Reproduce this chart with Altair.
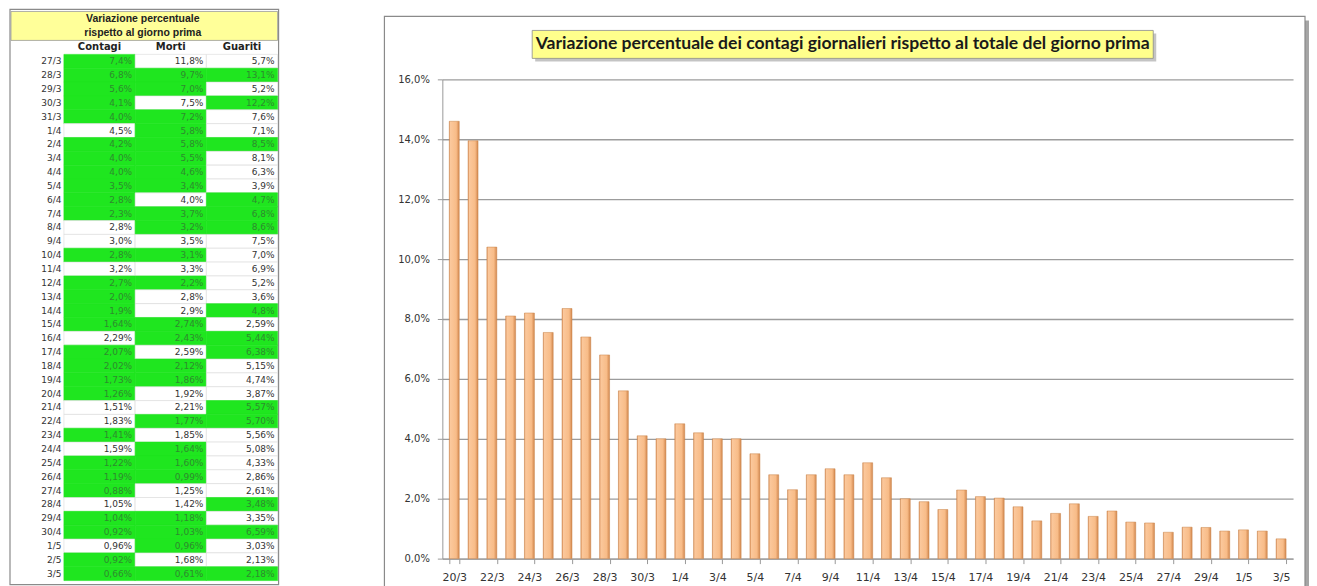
import altair as alt
import pandas as pd

# ---------------- data ----------------
tab_dates = ["27/3", "28/3", "29/3", "30/3", "31/3", "1/4", "2/4", "3/4", "4/4", "5/4",
             "6/4", "7/4", "8/4", "9/4", "10/4", "11/4", "12/4", "13/4", "14/4", "15/4",
             "16/4", "17/4", "18/4", "19/4", "20/4", "21/4", "22/4", "23/4", "24/4", "25/4",
             "26/4", "27/4", "28/4", "29/4", "30/4", "1/5", "2/5", "3/5"]
contagi = [7.4, 6.8, 5.6, 4.1, 4.0, 4.5, 4.2, 4.0, 4.0, 3.5, 2.8, 2.3, 2.8, 3.0, 2.8, 3.2, 2.7, 2.0, 1.9,
           1.64, 2.29, 2.07, 2.02, 1.73, 1.26, 1.51, 1.83, 1.41, 1.59, 1.22, 1.19, 0.88, 1.05, 1.04,
           0.92, 0.96, 0.92, 0.66]
morti = [11.8, 9.7, 7.0, 7.5, 7.2, 5.8, 5.8, 5.5, 4.6, 3.4, 4.0, 3.7, 3.2, 3.5, 3.1, 3.3, 2.2, 2.8, 2.9,
         2.74, 2.43, 2.59, 2.12, 1.86, 1.92, 2.21, 1.77, 1.85, 1.64, 1.60, 0.99, 1.25, 1.42, 1.18,
         1.03, 0.96, 1.68, 0.61]
guariti = [5.7, 13.1, 5.2, 12.2, 7.6, 7.1, 8.5, 8.1, 6.3, 3.9, 4.7, 6.8, 8.6, 7.5, 7.0, 6.9, 5.2, 3.6, 4.8,
           2.59, 5.44, 6.38, 5.15, 4.74, 3.87, 5.57, 5.70, 5.56, 5.08, 4.33, 2.86, 2.61, 3.48, 3.35,
           6.59, 3.03, 2.13, 2.18]
decimals = [1] * 19 + [2] * 19
green_contagi = [1, 1, 1, 1, 1, 0, 1, 1, 1, 1, 1, 1, 0, 0, 1, 0, 1, 1, 1, 1, 0, 1, 1, 1, 1, 0, 0, 1, 0,
                 1, 1, 1, 0, 1, 1, 0, 1, 1]
green_morti = [0, 1, 1, 0, 1, 1, 1, 1, 1, 1, 0, 1, 1, 0, 1, 0, 1, 0, 0, 1, 1, 0, 1, 1, 0, 0, 1, 0, 1,
               1, 1, 0, 0, 1, 1, 1, 0, 1]
green_guariti = [0, 1, 0, 1, 0, 0, 1, 0, 0, 0, 1, 1, 1, 0, 0, 0, 0, 0, 1, 0, 1, 1, 0, 0, 0, 1, 1, 0, 0,
                 0, 0, 0, 1, 0, 1, 0, 0, 1]
columns = ["Contagi", "Morti", "Guariti"]

bar_dates = ["20/3", "21/3", "22/3", "23/3", "24/3", "25/3", "26/3"] + tab_dates
bar_values = [14.6, 13.95, 10.4, 8.1, 8.2, 7.55, 8.35] + contagi

table_title = ["Variazione percentuale", "rispetto al giorno prima"]
chart_title = "Variazione percentuale dei contagi giornalieri rispetto al totale del giorno prima"

# ---------------- build tables ----------------
rows = []
for col, vals, greens in zip(columns, [contagi, morti, guariti], [green_contagi, green_morti, green_guariti]):
    for d, v, g, dec in zip(tab_dates, vals, greens, decimals):
        rows.append({"date": d, "col": col, "v": v, "green": g,
                     "label": f"{v:.{dec}f}".replace(".", ",") + "%"})
tdf = pd.DataFrame(rows)
hdf = pd.DataFrame({"col": columns})
bdf = pd.DataFrame({"date": bar_dates, "v": bar_values})
one = pd.DataFrame({"k": [0]})

GREEN = "#1FE61F"
TW, TH = 214, 500
TOP = -25          # first table row starts 25px above the shared plot origin
ROWS_H = 527

yenc_axis = alt.Axis(title=None, ticks=False, domain=False, labelFont="DejaVu Sans",
                     labelFontSize=9, labelColor="#333", labelPadding=3)
xs = alt.Scale(domain=columns, paddingInner=0, paddingOuter=0)
ys = alt.Scale(domain=tab_dates, paddingInner=0, paddingOuter=0, range=[TOP, TOP + ROWS_H])

t_frame = alt.Chart(one).mark_rect(fill="white", stroke="#8a8a8a", strokeWidth=1.2).encode(
    x=alt.value(-54), x2=alt.value(TW + 1), y=alt.value(TOP - 45), y2=alt.value(TOP + ROWS_H + 4))
t_box = alt.Chart(one).mark_rect(fill="#FFFF99", stroke="#9a9a9a", strokeWidth=0.8).encode(
    x=alt.value(-53), x2=alt.value(TW), y=alt.value(TOP - 43), y2=alt.value(TOP - 14))
t_t1 = alt.Chart(one).mark_text(font="Liberation Sans", fontWeight="bold", fontSize=10.5,
                                color="#222", baseline="middle").encode(
    x=alt.value(79), y=alt.value(TOP - 35), text=alt.value(table_title[0]))
t_t2 = alt.Chart(one).mark_text(font="Liberation Sans", fontWeight="bold", fontSize=10.5,
                                color="#222", baseline="middle").encode(
    x=alt.value(79), y=alt.value(TOP - 21), text=alt.value(table_title[1]))
t_head = alt.Chart(hdf).mark_text(font="DejaVu Sans", fontWeight="bold", fontSize=10,
                                  color="#222", baseline="middle").encode(
    x=alt.X("col:N", scale=xs, axis=None), y=alt.value(TOP - 7), text="col:N")

cells = alt.Chart(tdf).mark_rect(strokeWidth=0.6).encode(
    x=alt.X("col:N", scale=xs, axis=None),
    y=alt.Y("date:N", scale=ys, axis=yenc_axis),
    fill=alt.condition("datum.green == 1", alt.value(GREEN), alt.value("white")),
    stroke=alt.condition("datum.green == 1", alt.value(GREEN), alt.value("#dadada")),
)
ctext = alt.Chart(tdf).mark_text(align="right", dx=-3, baseline="middle", font="DejaVu Sans",
                                 fontSize=9).encode(
    x=alt.X("col:N", scale=xs, axis=None, bandPosition=1),
    y=alt.Y("date:N", scale=ys, axis=yenc_axis),
    text="label:N",
    color=alt.condition("datum.green == 1", alt.value("#2E8B2E"), alt.value("#333333")),
)
table = alt.layer(t_frame, t_box, t_t1, t_t2, t_head, cells, ctext).properties(width=TW, height=TH)

# ---------------- bar chart ----------------
BW, BH = 852, 480
b_spacer = alt.Chart(one).mark_rect(fill="white").encode(
    x=alt.value(-58), x2=alt.value(-57), y=alt.value(-70), y2=alt.value(-69))
b_shadow = alt.Chart(one).mark_rect(fill="#8f8f8f", opacity=0.8).encode(
    x=alt.value(BW + 12), x2=alt.value(BW + 16), y=alt.value(-59), y2=alt.value(BH + 28))
b_frame = alt.Chart(one).mark_rect(fillOpacity=0, stroke="#8a8a8a", strokeWidth=1.2).encode(
    x=alt.value(-58), x2=alt.value(BW + 12), y=alt.value(-63), y2=alt.value(BH + 28))
b_tshadow = alt.Chart(one).mark_rect(fill="#b5b5b5", opacity=0.8).encode(
    x=alt.value(93), x2=alt.value(715), y=alt.value(-46), y2=alt.value(-18))
b_tbox = alt.Chart(one).mark_rect(fill="#FFFF8C", stroke="#8a8a8a", strokeWidth=0.8).encode(
    x=alt.value(90), x2=alt.value(712), y=alt.value(-49), y2=alt.value(-21))
b_ttext = alt.Chart(one).mark_text(font="Lato", fontWeight="bold", fontSize=17.6, color="#1a1a1a",
                                   baseline="middle").encode(
    x=alt.value(401), y=alt.value(-35), text=alt.value(chart_title))

grad = alt.Gradient(gradient="linear", x1=0, x2=1, y1=0, y2=0, stops=[
    alt.GradientStop(offset=0, color="#D98C55"),
    alt.GradientStop(offset=0.12, color="#FBC89C"),
    alt.GradientStop(offset=0.7, color="#F8BC88"),
    alt.GradientStop(offset=1, color="#D2874E"),
])
bars = alt.Chart(bdf).mark_bar(color=grad, stroke="#C98449", strokeWidth=0.5).encode(
    x=alt.X("date:N", sort=bar_dates,
            scale=alt.Scale(paddingInner=0.47, paddingOuter=0.37),
            axis=alt.Axis(title=None, values=bar_dates[::2], labelAngle=0, tickBand="extent",
                          labelFont="DejaVu Sans", labelFontSize=11, labelColor="#333",
                          domainColor="#999", tickColor="#999", tickSize=5, labelPadding=8)),
    y=alt.Y("v:Q", scale=alt.Scale(domain=[0, 16], nice=False),
            axis=alt.Axis(title=None, values=[0, 2, 4, 6, 8, 10, 12, 14, 16],
                          labelExpr="replace(format(datum.value, '.1f'), '.', ',') + '%'",
                          labelFont="DejaVu Sans", labelFontSize=10, labelColor="#333",
                          gridColor="#9c9c9c", gridWidth=1.3, domainColor="#999",
                          tickColor="#999", tickSize=5, labelPadding=8)),
)
barchart = alt.layer(b_spacer, b_shadow, b_frame, b_tshadow, b_tbox, b_ttext, bars).properties(
    width=BW, height=BH)

chart = alt.hconcat(table, barchart, spacing=104).properties(
    padding={"left": 1, "top": 0, "right": 0, "bottom": 0}
).configure_view(stroke=None)

chart.save("out.html", embed_options={"renderer": "svg", "actions": False})
